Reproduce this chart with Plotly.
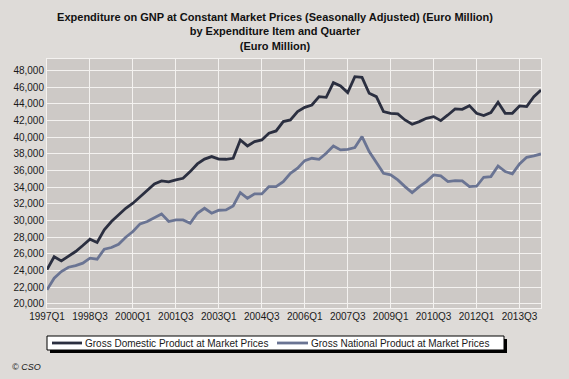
import plotly.graph_objects as go

quarters = [f"{y}Q{q}" for y in range(1997, 2015) for q in range(1, 5)][:70]

gdp = [24100, 25650, 25160, 25760, 26280, 27000, 27760, 27360, 28880, 29880,
       30680, 31480, 32080, 32880, 33680, 34400, 34760, 34640, 34880, 35080,
       35880, 36800, 37380, 37680, 37380, 37360, 37480, 39680, 38960, 39480,
       39680, 40480, 40760, 41880, 42080, 43080, 43600, 43880, 44880, 44800,
       46560, 46160, 45360, 47280, 47200, 45280, 44880, 43080, 42880, 42800,
       42080, 41560, 41880, 42280, 42480, 42000, 42680, 43400, 43360, 43800,
       42880, 42600, 42960, 44200, 42880, 42880, 43760, 43680, 44880, 45680]

gnp = [21680, 23080, 23880, 24400, 24600, 24880, 25480, 25360, 26560, 26760,
       27160, 28000, 28680, 29600, 29880, 30360, 30800, 29880, 30080, 30080,
       29680, 30880, 31480, 30880, 31240, 31280, 31760, 33360, 32680, 33200,
       33200, 34080, 34080, 34680, 35680, 36280, 37200, 37480, 37360, 38080,
       38960, 38480, 38560, 38760, 40080, 38280, 37000, 35680, 35480, 34880,
       34080, 33360, 34080, 34680, 35480, 35360, 34680, 34800, 34760, 34080,
       34120, 35200, 35280, 36560, 35880, 35600, 36800, 37600, 37760, 38000]

series_names = ["Gross Domestic Product at Market Prices",
                "Gross National Product at Market Prices"]
series_colors = ["#2b2f40", "#6a7493"]

tick_labels = ["1997Q1", "1998Q3", "2000Q1", "2001Q3", "2003Q1", "2004Q3",
               "2006Q1", "2007Q3", "2009Q1", "2010Q3", "2012Q1", "2013Q3"]
y_ticks = list(range(20000, 48001, 2000))

x_idx = list(range(len(quarters)))
tick_pos = [quarters.index(t) for t in tick_labels]

FONT = "Liberation Sans, Arial, sans-serif"

fig = go.Figure()
for vals, name, col in zip([gdp, gnp], series_names, series_colors):
    fig.add_trace(go.Scatter(x=x_idx, y=vals, mode="lines", name=name,
                             line=dict(color=col, width=2.8), showlegend=False))

W, H = 569, 379
ml, mr, mt, mb = 47, 28, 59, 71

fig.update_layout(
    width=W, height=H,
    margin=dict(l=ml, r=mr, t=mt, b=mb, pad=0),
    paper_bgcolor="#dedbd8",
    plot_bgcolor="#cdc9c6",
    font=dict(family=FONT, size=10, color="#1a1a1a"),
    title=dict(
        text="<b>Expenditure on GNP at Constant Market Prices (Seasonally Adjusted) (Euro Million)<br>"
             "by Expenditure Item and Quarter<br>(Euro Million)</b>",
        x=275 / W, xanchor="center", y=1 - 21 / H, yanchor="top",
        font=dict(family=FONT, size=11, color="#111111"),
    ),
    xaxis=dict(
        range=[0, len(quarters) - 1],
        tickmode="array", tickvals=tick_pos, ticktext=tick_labels,
        showgrid=True, gridcolor="#f4f2f0", gridwidth=1,
        zeroline=False, showline=True, linecolor="#f4f2f0", mirror=True,
        ticks="", ticklabelstandoff=-1, tickfont=dict(size=10, color="#1a1a1a"),
    ),
    yaxis=dict(
        range=[19500, 49400],
        tickmode="array", tickvals=y_ticks,
        ticktext=[f"{v:,}" for v in y_ticks],
        showgrid=True, gridcolor="#f4f2f0", gridwidth=1,
        zeroline=False, showline=True, linecolor="#f4f2f0", mirror=True,
        ticks="", tickfont=dict(size=10, color="#1a1a1a"),
    ),
)

plot_h = H - mt - mb
plot_w = W - ml - mr
def px_x(p):
    return (p - ml) / plot_w
def px_y(p):
    return (H - mb - p) / plot_h

# legend box with drop shadow
fig.add_shape(type="rect", xref="paper", yref="paper",
              x0=px_x(50), x1=px_x(507), y0=px_y(339), y1=px_y(353),
              fillcolor="#000000", line=dict(width=0), layer="above")
fig.add_shape(type="rect", xref="paper", yref="paper",
              x0=px_x(47), x1=px_x(504), y0=px_y(336), y1=px_y(350),
              fillcolor="#ffffff", line=dict(color="#000000", width=1), layer="above")
legend_line_x = [(52, 82), (277, 308)]
for (a, b), name, col in zip(legend_line_x, series_names, series_colors):
    fig.add_shape(type="line", xref="paper", yref="paper",
                  x0=px_x(a), x1=px_x(b), y0=px_y(343), y1=px_y(343),
                  line=dict(color=col, width=2.8), layer="above")
    fig.add_annotation(text=name, xref="paper", yref="paper",
                       x=px_x(b + 1), y=px_y(343), xanchor="left", yanchor="middle",
                       showarrow=False, font=dict(family=FONT, size=10, color="#1a1a1a"))

fig.add_annotation(text="<i>© CSO</i>", xref="paper", yref="paper",
                   x=px_x(10), y=px_y(367), xanchor="left", yanchor="middle",
                   showarrow=False, font=dict(family=FONT, size=9, color="#1a1a1a"))

fig.write_html("out.html",
               config={"displayModeBar": False},
               post_script="document.body.style.margin='0px';"
                           "document.body.style.background='#dedbd8';")
